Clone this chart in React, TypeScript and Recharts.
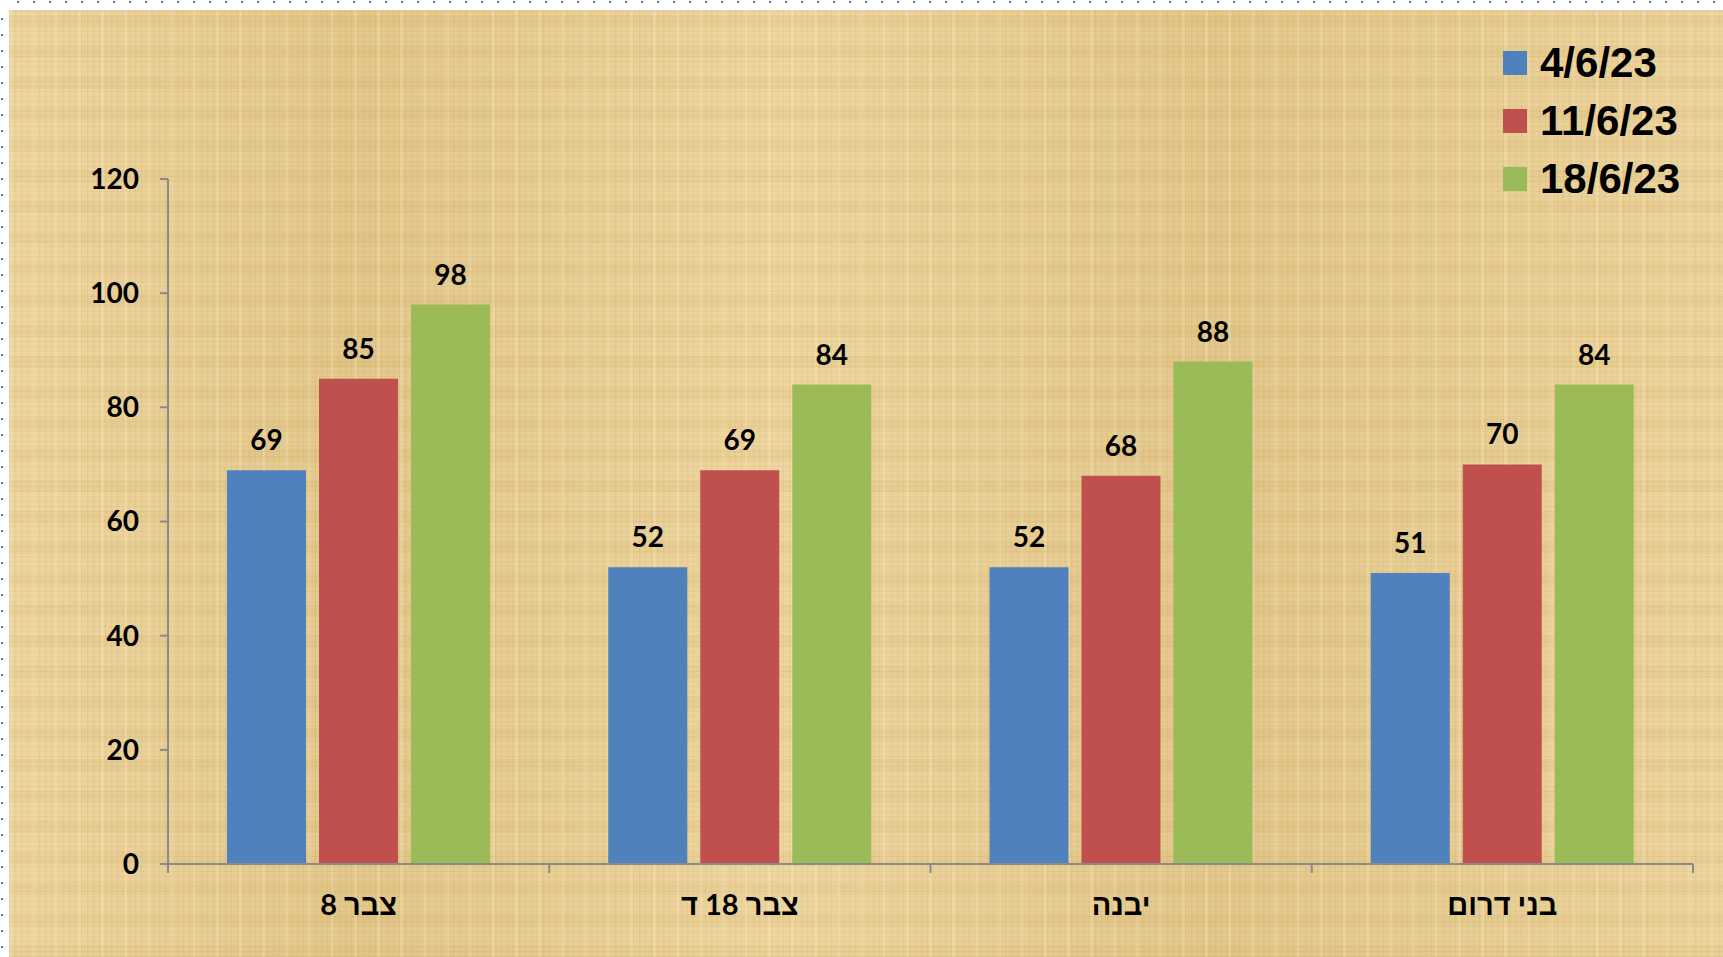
import { BarChart, Bar, XAxis, YAxis, LabelList, Legend } from "recharts"

const categories = ["צבר 8", "צבר 18 ד", "יבנה", "בני דרום"]
const seriesNames = ["4/6/23", "11/6/23", "18/6/23"]
const june4 = [69, 52, 52, 51]
const june11 = [85, 69, 68, 70]
const june18 = [98, 84, 88, 84]
const yTicks = [0, 20, 40, 60, 80, 100, 120]

const COLORS = ["#4f81bd", "#c0504d", "#9bbb59"]
const AXIS = "#8a8a8a"
const NUM_FONT = "Lato, 'Liberation Sans', sans-serif"

const data = categories.map((name, i) => ({
  name,
  a: june4[i],
  b: june11[i],
  c: june18[i],
}))

const paper = {
  backgroundColor: "#e7cd93",
  backgroundImage: [
    "repeating-linear-gradient(90deg, rgba(150,110,40,0.08) 0px, rgba(150,110,40,0.08) 1px, transparent 1px, transparent 6px)",
    "repeating-linear-gradient(0deg, rgba(150,110,40,0.07) 0px, rgba(150,110,40,0.07) 1px, transparent 1px, transparent 5px)",
    "repeating-linear-gradient(90deg, rgba(255,240,200,0.22) 0px, rgba(255,240,200,0.22) 3px, transparent 3px, transparent 23px)",
    "repeating-linear-gradient(0deg, rgba(190,150,70,0.09) 0px, rgba(190,150,70,0.09) 12px, transparent 12px, transparent 31px)",
    "linear-gradient(90deg, rgba(255,235,190,0.3), rgba(210,180,110,0.2) 20%, rgba(255,235,190,0.3) 45%, rgba(210,180,110,0.2) 70%, rgba(255,235,190,0.25))",
  ].join(","),
}

// category label + tick marks on the category boundaries (Excel style)
function CatTick(props: any) {
  const { x, y, payload, index } = props
  const half = payload?.offset ?? 190.6
  return (
    <g>
      <line x1={x - half} y1={y} x2={x - half} y2={y + 9} stroke={AXIS} strokeWidth={2} />
      {index === categories.length - 1 && (
        <line x1={x + half} y1={y} x2={x + half} y2={y + 9} stroke={AXIS} strokeWidth={2} />
      )}
      <text
        x={x}
        y={y + 51}
        textAnchor="middle"
        direction="rtl"
        style={{ direction: "rtl", unicodeBidi: "embed" }}
        fontFamily={NUM_FONT}
        fontWeight="bold"
        fontSize={29}
        fill="#000"
      >
        {payload.value}
      </text>
    </g>
  )
}

function LegendBox({ payload }: any) {
  const items = seriesNames.map((n) => (payload || []).find((p: any) => p.value === n)).filter(Boolean)
  return (
    <div>
      {items.map((p: any) => (
        <div key={p.value} style={{ display: "flex", alignItems: "center", height: 58 }}>
          <span style={{ width: 24, height: 24, background: p.color, marginRight: 13 }} />
          <span
            style={{
              fontFamily: "'Liberation Sans', Arial, sans-serif",
              fontWeight: "bold",
              fontSize: 42,
              color: "#000",
              lineHeight: 1,
            }}
          >
            {p.value}
          </span>
        </div>
      ))}
    </div>
  )
}

export default function App() {
  return (
    <div
      style={{
        position: "absolute",
        left: 0,
        top: 0,
        width: 1723,
        height: 957,
        background: "#fff",
        overflow: "hidden",
      }}
    >
      <div
        style={{
          position: "absolute",
          top: 1,
          left: 17,
          width: 1706,
          height: 2,
          background: "repeating-linear-gradient(90deg, #4a75c0 0px, #4a75c0 2px, transparent 2px, transparent 16px)",
        }}
      />
      <div
        style={{
          position: "absolute",
          top: 18,
          left: 1,
          width: 2,
          height: 939,
          background: "repeating-linear-gradient(180deg, #4a75c0 0px, #4a75c0 2px, transparent 2px, transparent 16px)",
        }}
      />
      <div style={{ position: "absolute", left: 9, top: 10, width: 1714, height: 947, ...paper }}>
        <BarChart
          width={1714}
          height={947}
          data={data}
          margin={{ top: 169, right: 30, bottom: 0, left: 1 }}
          barSize={79}
          barGap={13}
        >
          <XAxis
            dataKey="name"
            height={93}
            tickSize={0}
            tickMargin={0}
            tickLine={false}
            axisLine={{ stroke: AXIS, strokeWidth: 2 }}
            tick={<CatTick />}
            interval={0}
          />
          <YAxis
            width={158}
            domain={[0, 120]}
            ticks={yTicks}
            tickSize={8}
            tickMargin={21}
            axisLine={{ stroke: AXIS, strokeWidth: 2 }}
            tickLine={{ stroke: AXIS, strokeWidth: 2 }}
            tick={{ fill: "#000", fontSize: 28, fontWeight: "bold", fontFamily: NUM_FONT }}
          />
          <Legend
            layout="horizontal"
            verticalAlign="top"
            align="right"
            content={<LegendBox />}
            wrapperStyle={{ top: 24, left: 1494, width: 220, height: 0 }}
          />
          <Bar dataKey="a" name={seriesNames[0]} fill={COLORS[0]} isAnimationActive={false}>
            <LabelList dataKey="a" position="top" offset={20} fill="#000" fontSize={28} fontWeight="bold" fontFamily={NUM_FONT} />
          </Bar>
          <Bar dataKey="b" name={seriesNames[1]} fill={COLORS[1]} isAnimationActive={false}>
            <LabelList dataKey="b" position="top" offset={20} fill="#000" fontSize={28} fontWeight="bold" fontFamily={NUM_FONT} />
          </Bar>
          <Bar dataKey="c" name={seriesNames[2]} fill={COLORS[2]} isAnimationActive={false}>
            <LabelList dataKey="c" position="top" offset={20} fill="#000" fontSize={28} fontWeight="bold" fontFamily={NUM_FONT} />
          </Bar>
        </BarChart>
      </div>
    </div>
  )
}
